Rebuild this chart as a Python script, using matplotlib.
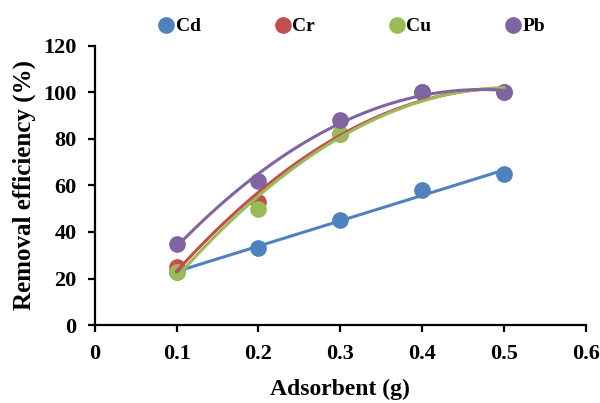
"""Removal efficiency vs adsorbent dose with Excel-style trendlines."""

import matplotlib

matplotlib.use("Agg")
import matplotlib.pyplot as plt
import numpy as np

plt.rcParams["font.family"] = ["Liberation Serif", "DejaVu Serif"]
plt.rcParams["font.weight"] = "bold"

# data
adsorbent = [0.1, 0.2, 0.3, 0.4, 0.5]
cd = [23, 33, 45, 58, 65]
cr = [25, 53, 82, 100, 100]
cu = [23, 50, 82, 100, 100]
pb = [35, 62, 88, 100, 100]

series = [
    ("Cd", cd, "#4F81BD", 1),
    ("Cr", cr, "#C0504D", 2),
    ("Cu", cu, "#9BBB59", 2),
    ("Pb", pb, "#8064A2", 2),
]

fig = plt.figure(figsize=(6.0, 4.03), dpi=100)
ax = fig.add_axes([0.158, 0.1935, 0.818, 0.6925])

x = np.asarray(adsorbent)
xs = np.linspace(x.min(), x.max(), 100)
for name, vals, color, order in series:
    ax.plot(x, vals, "o", color=color, markersize=11, label=name, zorder=3)
    coef = np.polyfit(x, vals, order)
    ax.plot(xs, np.polyval(coef, xs), color=color, linewidth=2.2, zorder=4)

ax.set_xlim(0, 0.6)
ax.set_ylim(0, 120)
ax.set_xticks([0, 0.1, 0.2, 0.3, 0.4, 0.5, 0.6])
ax.set_xticklabels(["0", "0.1", "0.2", "0.3", "0.4", "0.5", "0.6"])
ax.set_yticks(range(0, 121, 20))

for side in ["top", "right"]:
    ax.spines[side].set_visible(False)
for side in ["left", "bottom"]:
    ax.spines[side].set_linewidth(1.6)
ax.tick_params(direction="out", length=5, width=1.6, labelsize=16)
ax.tick_params(axis="x", pad=9)
ax.tick_params(axis="y", pad=8)

ax.set_xlabel("Adsorbent (g)", fontsize=17, fontweight="bold", labelpad=10)
ax.set_ylabel("Removal efficiency (%)", fontsize=18, fontweight="bold", labelpad=5)

ax.legend(
    loc="lower center",
    bbox_to_anchor=(0.52, 1.01),
    ncol=4,
    frameon=False,
    handletextpad=-0.1,
    columnspacing=3.6,
    handlelength=1.2,
    fontsize=14,
    borderaxespad=0,
)

fig.savefig("out.png", dpi=100)
plt.close(fig)
